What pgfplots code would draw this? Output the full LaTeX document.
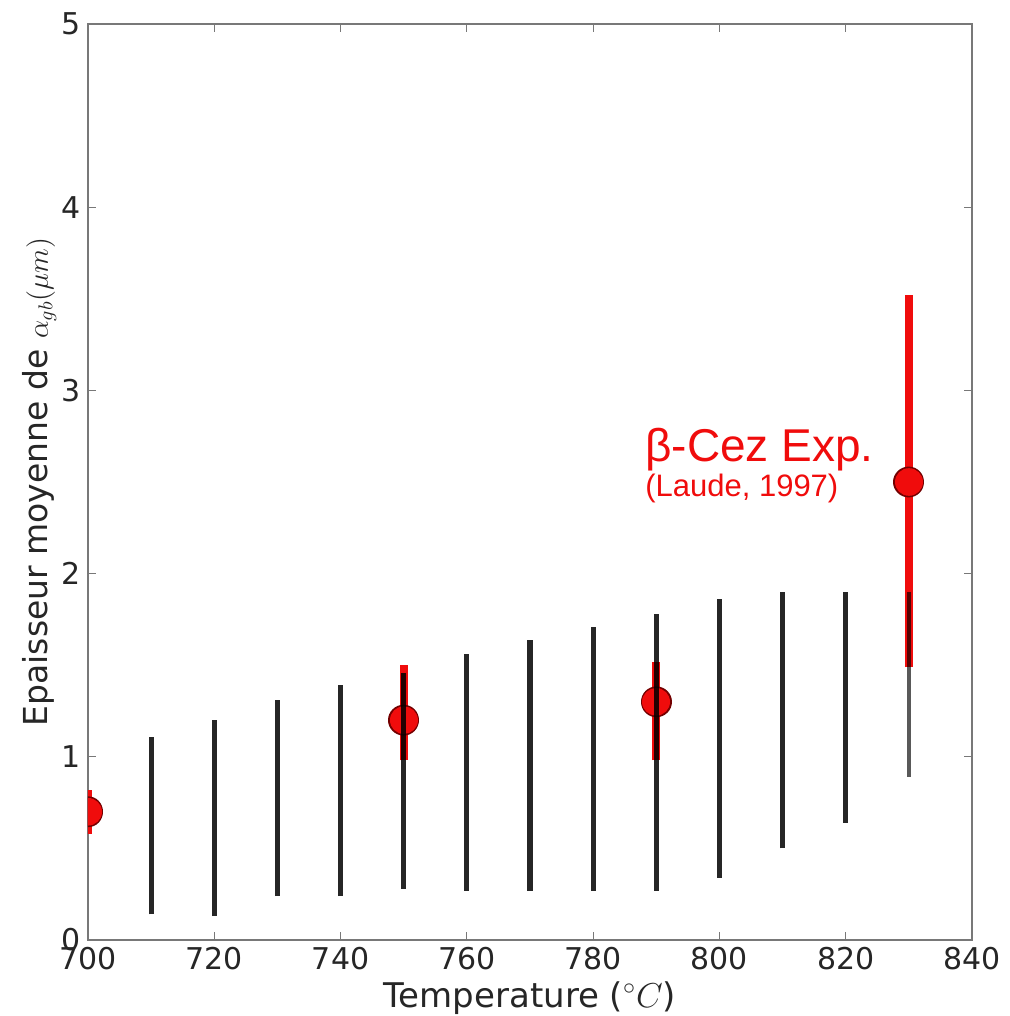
\documentclass[border=0pt]{standalone}
\usepackage{pgfplots}
\pgfplotsset{compat=1.18}
\usepackage{pgfplotstable}
\usepackage{fontspec}
\setmainfont{DejaVu Sans}
\newfontfamily\arialfont{Liberation Sans}

% black ranges: each column is a vertical segment (low, high), separated by nan
\pgfplotstableread{
x y
710 0.14
710 1.11
710 nan
720 0.13
720 1.20
720 nan
730 0.24
730 1.31
730 nan
740 0.24
740 1.39
740 nan
750 0.28
750 1.46
750 nan
760 0.27
760 1.56
760 nan
770 0.27
770 1.64
770 nan
780 0.27
780 1.71
780 nan
790 0.27
790 1.78
790 nan
800 0.34
800 1.86
800 nan
810 0.50
810 1.90
810 nan
820 0.64
820 1.90
}\blackdata

\pgfplotstableread{
x y
830 0.89
830 1.90
}\blacklast

% experimental ranges (Laude, 1997)
\pgfplotstableread{
x y
700 0.58
700 0.82
700 nan
750 0.98
750 1.50
750 nan
790 0.98
790 1.52
790 nan
830 1.49
830 3.52
}\redbars

% experimental means (drawn as round dots)
\pgfplotstableread{
x y
700 0.70
700 0.7001
700 nan
750 1.20
750 1.2001
750 nan
790 1.30
790 1.3001
790 nan
830 2.50
830 2.5001
}\reddots

\definecolor{axgray}{RGB}{120,120,120}
\definecolor{mred}{RGB}{240,12,12}

\begin{document}
\begin{tikzpicture}
\path[use as bounding box] (-44pt,-38pt) rectangle (461pt,470pt);
\begin{axis}[
  scale only axis,
  width=442pt, height=458pt,
  xmin=700, xmax=840, ymin=0, ymax=5,
  xtick={700,720,...,840}, ytick={0,1,...,5},
  tick align=inside,
  major tick length=4pt,
  axis line style={axgray, line width=0.9pt},
  tick style={axgray, line width=0.6pt},
  ticklabel style={font=\fontsize{15}{18}\selectfont, text=black!85},
  /pgf/number format/assume math mode=true,
  xlabel={Temperature ($^\circ C$)},
  ylabel={Epaisseur moyenne de {\fontsize{14}{16}\selectfont$\alpha_{gb}(\mu m)$}},
  xlabel style={font=\fontsize{17}{20}\selectfont, text=black!85, at={(axis description cs:0.5,0)}, anchor=base, yshift=-33.5pt},
  ylabel style={font=\fontsize{16.5}{19}\selectfont, text=black!85, at={([xshift=-20pt]axis description cs:0,0.5)}, anchor=base, rotate=0},
  clip=true,
  unbounded coords=jump,
]
% red experimental ranges
\addplot[mred, line width=4pt, mark=none] table[x=x, y=y] {\redbars};
% red means: dark rim then red fill
\addplot[red!45!black, line width=15.4pt, line cap=round, mark=none] table[x=x, y=y] {\reddots};
\addplot[mred, line width=13.8pt, line cap=round, mark=none] table[x=x, y=y] {\reddots};
% black ranges
\addplot[black, line width=2.6pt, draw opacity=0.85, mark=none] table[x=x, y=y] {\blackdata};
\addplot[black, line width=2.3pt, draw opacity=0.65, mark=none] table[x=x, y=y] {\blacklast};
\node[anchor=base west, text=mred, font=\arialfont\fontsize{23}{26}\selectfont, inner sep=0pt] at (axis cs:788.2,2.61) {β-Cez Exp.};
\node[anchor=base west, text=mred, font=\arialfont\fontsize{15.5}{18}\selectfont, inner sep=0pt] at (axis cs:788.2,2.42) {(Laude, 1997)};
\end{axis}
\end{tikzpicture}
\end{document}
